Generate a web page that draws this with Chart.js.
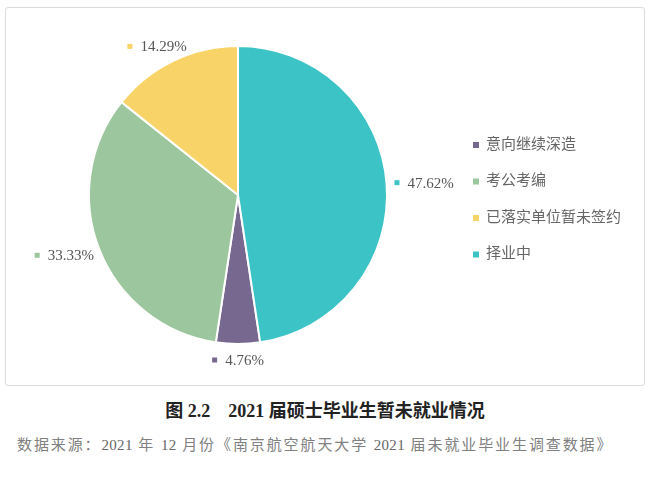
<!DOCTYPE html>
<html>
<head>
<meta charset="utf-8">
<script src="https://cdn.jsdelivr.net/npm/chart.js@4/dist/chart.umd.min.js"></script>
<style>
  body { margin: 0; background: #fff; width: 650px; height: 483px; position: relative; overflow: hidden; }
  #box { position: absolute; left: 5px; top: 7px; width: 638px; height: 377px; border: 1px solid #dcdcdc; border-radius: 3px; box-shadow: 0 0 1px #e8e8e8; }
  #wrap { position: absolute; left: 0; top: 0; width: 650px; height: 390px; }
  #caption { position: absolute; left: 0; width: 650px; top: 396px; text-align: center; font: bold 18px "Liberation Serif", "Noto Sans CJK SC"; color: #222; white-space: pre; }
  #source { position: absolute; left: 17px; top: 433px; font: 15px "Liberation Serif", "Noto Sans CJK SC"; color: #808080; letter-spacing: 1.9px; white-space: pre; }
  #source span { letter-spacing: 0.3px; color: #666; }
</style>
</head>
<body>
<div id="box"></div>
<div id="wrap"><canvas id="myChart"></canvas></div>
<div id="caption">图 2.2    2021 届硕士毕业生暂未就业情况</div>
<div id="source">数据来源：<span>2021</span> 年 <span>12</span> 月份《南京航空航天大学 <span>2021</span> 届未就业毕业生调查数据》</div>
<script>
var categories = ['意向继续深造', '考公考编', '已落实单位暂未签约', '择业中'];
var values = [4.76, 33.33, 14.29, 47.62];
var pctLabels = ['4.76%', '33.33%', '14.29%', '47.62%'];
var COLORS = ['#76688f', '#9cc69d', '#f8d468', '#3cc3c6'];

// last slice (择业中) starts at 12 o'clock
var startRot = 360 * values[3] / 100;

var labelPlugin = {
  id: 'labels',
  afterDatasetsDraw: function(chart) {
    var ctx = chart.ctx;
    var arcs = chart.getDatasetMeta(0).data;
    ctx.save();
    ctx.font = '15px "Liberation Serif"';
    ctx.textBaseline = 'middle';
    for (var i = 0; i < arcs.length; i++) {
      var a = arcs[i];
      var mid = (a.startAngle + a.endAngle) / 2;
      var r = a.outerRadius + 8;
      var ax = a.x + Math.cos(mid) * r;
      var ay = a.y + Math.sin(mid) * r;
      var tw = ctx.measureText(pctLabels[i]).width;
      var w = tw + 13, h = 16;
      var cx = ax + Math.cos(mid) * w / 2;
      var cy = ay + Math.sin(mid) * h / 2;
      var left = cx - w / 2;
      ctx.fillStyle = COLORS[i];
      ctx.fillRect(left, cy - 2.5, 5, 5);
      ctx.fillStyle = '#555';
      ctx.textAlign = 'left';
      ctx.fillText(pctLabels[i], left + 13, cy + 1);
    }
    // legend
    ctx.font = '15px "Liberation Serif", "Noto Sans CJK SC"';
    for (var j = 0; j < categories.length; j++) {
      var y = 145 + j * 36.5;
      ctx.fillStyle = COLORS[j];
      ctx.fillRect(473, y - 3, 6, 6);
      ctx.fillStyle = '#666';
      ctx.fillText(categories[j], 486, y);
    }
    ctx.restore();
  }
};

new Chart('myChart', {
  type: 'pie',
  data: {
    labels: categories,
    datasets: [{
      data: values,
      backgroundColor: COLORS,
      borderColor: '#fff',
      borderWidth: 2
    }]
  },
  options: {
    responsive: true,
    maintainAspectRatio: false,
    animation: false,
    rotation: startRot,
    layout: { padding: { left: 88, right: 262, top: 45, bottom: 45 } },
    plugins: {
      legend: { display: false },
      tooltip: { enabled: false }
    }
  },
  plugins: [labelPlugin]
});
</script>
</body>
</html>
